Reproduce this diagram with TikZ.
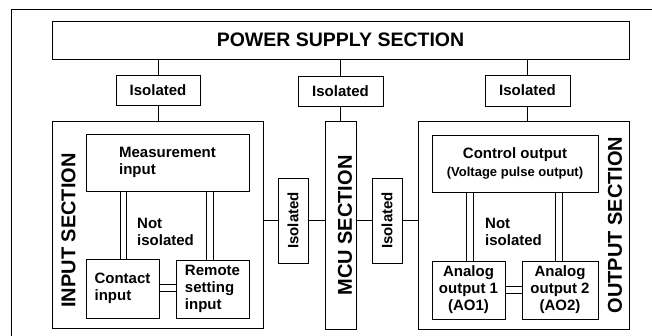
\documentclass[tikz,border=0pt]{standalone}
\usepackage{graphicx}
\usepackage{fontspec}
\setmainfont{Liberation Sans}
\usetikzlibrary{positioning}

\begin{document}
\begin{tikzpicture}[x=1pt,y=-1pt,
    box/.style={draw,line width=0.8pt,inner sep=0pt,
      font=\fontsize{15}{17}\selectfont\bfseries},
    txt/.style={inner sep=0pt,font=\fontsize{15}{17}\selectfont\bfseries},
    sec/.style={inner sep=0pt,rotate=90,font=\fontsize{20}{22}\selectfont\bfseries},
    wire/.style={line width=0.8pt}]
  \useasboundingbox (0,0) rectangle (652,336);
  % outer frame
  \draw[line width=1pt] (11,336) -- (11,10) -- (652,10);

  \node[box,minimum width=577,minimum height=38,font=\fontsize{19.5}{21}\selectfont\bfseries]
    (power) at (340.5,40) {POWER SUPPLY SECTION};
  \node[box,minimum width=84,minimum height=30] (isoin) at (158,90) {Isolated};
  \node[box,minimum width=85,minimum height=30] (isomcu) at (340.5,91) {Isolated};
  \node[box,minimum width=85,minimum height=31] (isoout) at (527.5,90.5) {Isolated};

  % input section
  \node[box,minimum width=211,minimum height=207] (input) at (157.5,224.5) {};
  \node[sec] at (68.5,230.5) {INPUT SECTION};
  \node[box,minimum width=163,minimum height=57,align=left] (meas) at (167.5,162.5)
    {Measurement\\input};
  \node[box,minimum width=73,minimum height=59,align=left] (contact) at (122.5,288.5)
    {Contact\\input};
  \node[box,minimum width=73,minimum height=58,align=left] (remote) at (212.5,289)
    {Remote\\setting\\input};
  \node[txt,anchor=west,align=left] at (137,232) {Not\\isolated};

  % mcu section
  \node[box,minimum width=30,minimum height=85] (isoa) at (293,220.5) {\rotatebox{90}{Isolated}};
  \node[box,minimum width=31,minimum height=208] (mcu) at (340.5,225) {};
  \node[sec] at (345,225.5) {MCU SECTION};
  \node[box,minimum width=30,minimum height=85] (isob) at (387,220.5) {\rotatebox{90}{Isolated}};

  % output section
  \node[box,minimum width=211,minimum height=208] (output) at (523.5,225) {};
  \node[sec] at (615,225) {OUTPUT SECTION};
  \node[box,minimum width=166,minimum height=57,align=center] (ctrl) at (515,163.5)
    {Control output\\[1pt]{\fontsize{13}{15}\selectfont (Voltage pulse output)}};
  \node[box,minimum width=73,minimum height=58,align=center] (aoone) at (468.5,290)
    {Analog\\output 1\\(AO1)};
  \node[box,minimum width=76,minimum height=58,align=center] (aotwo) at (560,290)
    {Analog\\output 2\\(AO2)};
  \node[txt,anchor=west,align=left] at (485,232) {Not\\isolated};

  % isolated links
  \draw[wire] (isoin.north) -- (isoin.north |- power.south);
  \draw[wire] (isomcu.north) -- (isomcu.north |- power.south);
  \draw[wire] (isoout.north) -- (isoout.north |- power.south);
  \draw[wire] (isoin.south) -- (isoin.south |- input.north);
  \draw[wire] (isomcu.south) -- (isomcu.south |- mcu.north);
  \draw[wire] (isoout.south) -- (isoout.south |- output.north);
  \draw[wire] (isoa.west) -- (isoa.west -| input.east);
  \draw[wire] (isoa.east) -- (isoa.east -| mcu.west);
  \draw[wire] (isob.west) -- (isob.west -| mcu.east);
  \draw[wire] (isob.east) -- (isob.east -| output.west);

  % not isolated links (double lines)
  \foreach \x in {120,126}
    \draw[wire] (\x,0 |- meas.south) -- (\x,0 |- contact.north);
  \foreach \x in {206,213}
    \draw[wire] (\x,0 |- meas.south) -- (\x,0 |- remote.north);
  \foreach \y in {284,291}
    \draw[wire] (contact.east |- 0,\y) -- (remote.west |- 0,\y);
  \foreach \x in {466,473}
    \draw[wire] (\x,0 |- ctrl.south) -- (\x,0 |- aoone.north);
  \foreach \x in {555,562}
    \draw[wire] (\x,0 |- ctrl.south) -- (\x,0 |- aotwo.north);
  \foreach \y in {286,293}
    \draw[wire] (aoone.east |- 0,\y) -- (aotwo.west |- 0,\y);
\end{tikzpicture}
\end{document}
